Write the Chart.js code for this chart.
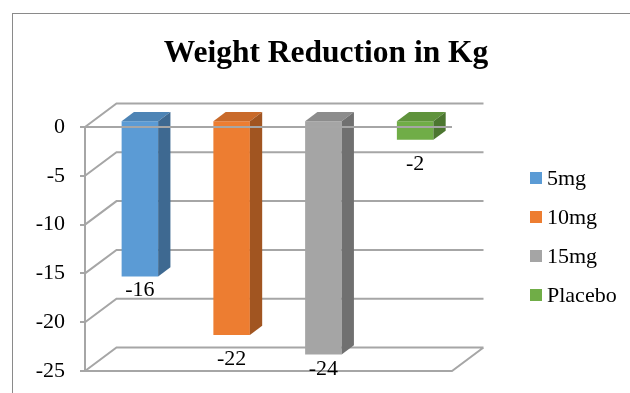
<!DOCTYPE html>
<html>
<head>
<meta charset="utf-8">
<title>Weight Reduction in Kg</title>
<script src="https://cdn.jsdelivr.net/npm/chart.js@4.4.1/dist/chart.umd.min.js"></script>
<style>
  html, body { margin: 0; padding: 0; background: #fff; overflow: hidden; }
  #wrap { position: relative; width: 630px; height: 393px; }
</style>
</head>
<body>
<div id="wrap"><canvas id="chart"></canvas></div>
<script>
// ---- data ----
const chartTitle = 'Weight Reduction in Kg';
const groups = ['5mg', '10mg', '15mg', 'Placebo'];
const reductionKg = [-16, -22, -24, -2];
const yMin = -25;
const yMax = 0;
const yStep = 5;

// ---- styling ----
const faceColors = ['#5B9BD5', '#ED7D31', '#A5A5A5', '#70AD47'];
const topColors  = ['#4D84B5', '#C96A2A', '#8C8C8C', '#5F933C'];
const sideColors = ['#3E6991', '#A15521', '#707070', '#4C7630'];
const labelGap   = [14, 24, 15, 24];   // distance from bar end to its value label

const SERIF = '"Liberation Serif", "Times New Roman", serif';
const GRID = '#a6a6a6';
const WALL = { dx: 31.5, dy: -23.5 };  // depth offset of the back wall
const BAR_SHIFT = 0.286;               // bars sit this far into the depth
const BAR_DEPTH = 0.39;                // bar thickness as a share of the depth

// Draws the 3-D walls, bar tops/sides, value labels, legend, title and frame.
const box3d = {
  id: 'box3d',
  beforeDraw(chart) {
    const { ctx } = chart;
    ctx.save();
    ctx.strokeStyle = '#8a8a8a';
    ctx.lineWidth = 1;
    ctx.strokeRect(12.5, 13.5, 700, 500);
    ctx.fillStyle = '#000';
    ctx.font = 'bold 31.5px ' + SERIF;
    ctx.textAlign = 'center';
    ctx.textBaseline = 'alphabetic';
    ctx.fillText(chartTitle, 326, 62);
    ctx.restore();
  },
  beforeDatasetsDraw(chart) {
    const { ctx, chartArea: a, scales: { y } } = chart;
    ctx.save();
    ctx.strokeStyle = GRID;
    ctx.lineWidth = 2;
    ctx.beginPath();
    y.ticks.forEach(t => {
      const py = y.getPixelForValue(t.value);
      ctx.moveTo(a.left, py);
      ctx.lineTo(a.left + WALL.dx, py + WALL.dy);
      ctx.lineTo(a.right + WALL.dx, py + WALL.dy);
    });
    const yb = y.getPixelForValue(y.min);
    ctx.moveTo(a.left, yb);
    ctx.lineTo(a.right, yb);
    ctx.lineTo(a.right + WALL.dx, yb + WALL.dy);
    ctx.stroke();
    ctx.restore();
    // bars are drawn part-way into the depth
    ctx.save();
    ctx.translate(WALL.dx * BAR_SHIFT, WALL.dy * BAR_SHIFT);
  },
  afterDatasetsDraw(chart) {
    const { ctx, chartArea: a, scales: { y } } = chart;
    const bx = WALL.dx * BAR_DEPTH, by = WALL.dy * BAR_DEPTH;
    const sx = WALL.dx * BAR_SHIFT, sy = WALL.dy * BAR_SHIFT;
    const labels = [];
    chart.data.datasets.forEach((ds, i) => {
      const meta = chart.getDatasetMeta(i);
      if (meta.hidden) return;
      meta.data.forEach((bar, j) => {
        const p = bar.getProps(['x', 'y', 'base', 'width'], true);
        const l = p.x - p.width / 2, r = p.x + p.width / 2;
        const top = Math.min(p.y, p.base), bot = Math.max(p.y, p.base);
        ctx.fillStyle = topColors[i];
        ctx.beginPath();
        ctx.moveTo(l, top); ctx.lineTo(r, top);
        ctx.lineTo(r + bx, top + by); ctx.lineTo(l + bx, top + by);
        ctx.closePath(); ctx.fill();
        ctx.fillStyle = sideColors[i];
        ctx.beginPath();
        ctx.moveTo(r, top); ctx.lineTo(r + bx, top + by);
        ctx.lineTo(r + bx, bot + by); ctx.lineTo(r, bot);
        ctx.closePath(); ctx.fill();
        labels.push({ text: String(ds.data[j]), x: p.x + sx, y: bot + sy + labelGap[i] });
      });
    });
    ctx.restore();

    // category axis line at zero, in front of the bars
    ctx.save();
    ctx.strokeStyle = GRID;
    ctx.lineWidth = 2;
    const y0 = y.getPixelForValue(0);
    ctx.beginPath();
    ctx.moveTo(a.left, y0);
    ctx.lineTo(a.right, y0);
    ctx.stroke();

    ctx.fillStyle = '#000';
    ctx.font = '22px ' + SERIF;
    ctx.textAlign = 'center';
    ctx.textBaseline = 'middle';
    labels.forEach(lb => ctx.fillText(lb.text, lb.x, lb.y));
    ctx.restore();
  },
  afterDraw(chart) {
    const { ctx } = chart;
    ctx.save();
    ctx.font = '22px ' + SERIF;
    ctx.textAlign = 'left';
    ctx.textBaseline = 'middle';
    chart.data.datasets.forEach((ds, i) => {
      const cy = 178 + i * 39;
      ctx.fillStyle = ds.backgroundColor;
      ctx.fillRect(530, cy - 6, 12, 12);
      ctx.fillStyle = '#000';
      ctx.fillText(ds.label, 547, cy + 1);
    });
    ctx.restore();
  }
};

new Chart(document.getElementById('chart'), {
  type: 'bar',
  data: {
    labels: [''],
    datasets: groups.map((g, i) => ({
      label: g,
      data: [reductionKg[i]],
      backgroundColor: faceColors[i],
      borderWidth: 0,
      clip: false
    }))
  },
  options: {
    responsive: true,
    maintainAspectRatio: false,
    animation: false,
    events: [],
    layout: { padding: { top: 127, bottom: 22, left: 0, right: 178 } },
    datasets: { bar: { categoryPercentage: 1, barPercentage: 0.398 } },
    plugins: {
      legend: { display: false },
      title: { display: false },
      tooltip: { enabled: false }
    },
    scales: {
      x: { display: false },
      y: {
        min: yMin,
        max: yMax,
        afterFit(scale) {
          scale.width = 85;
          scale.paddingTop = 0;
          scale.paddingBottom = 0;
        },
        ticks: {
          stepSize: yStep,
          padding: 15,
          color: '#000',
          font: { family: SERIF, size: 22 }
        },
        grid: {
          drawOnChartArea: false,
          drawTicks: true,
          tickLength: 5,
          color: GRID,
          lineWidth: 2
        },
        border: { display: true, color: GRID, width: 2 }
      }
    }
  },
  plugins: [box3d]
});
</script>
</body>
</html>
